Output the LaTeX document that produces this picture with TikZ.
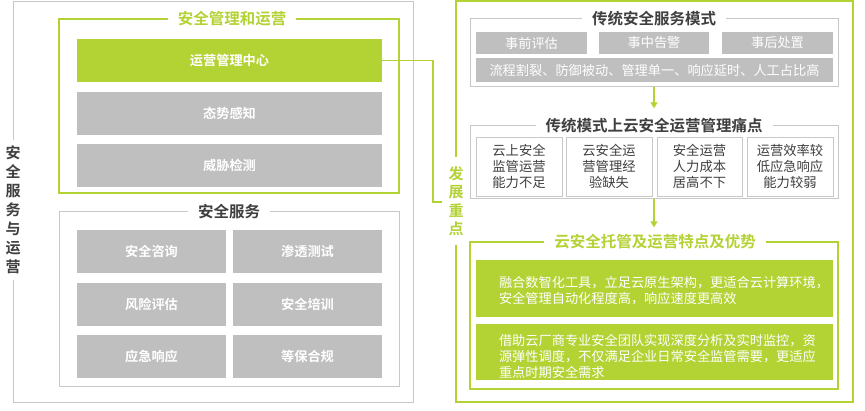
\documentclass[tikz,border=0pt]{standalone}
\usepackage{fontspec}
\setmainfont{Noto Sans CJK SC}[BoldFont={Noto Sans CJK SC Bold}]
\usepackage{xcolor}
\usetikzlibrary{arrows.meta}
\definecolor{leaf}{HTML}{B3D234}
\definecolor{boxgray}{HTML}{BFBFBF}
\definecolor{linegray}{HTML}{C8C8C8}
\definecolor{inkgray}{HTML}{3F3F3F}

\begin{document}
\begin{tikzpicture}[x=1pt, y=-1pt,
    grayframe/.style={draw=linegray, line width=1pt},
    leafframe/.style={draw=leaf, line width=1.2pt},
    title/.style={fill=white, inner xsep=10pt, inner ysep=1pt, font=\fontsize{15.5}{18}\selectfont\bfseries},
    vtitle/.style={fill=white, align=center, inner xsep=2pt, font=\fontsize{15}{19}\selectfont\bfseries},
    tile/.style={fill=boxgray, text=white, inner sep=0pt, minimum height=43pt, font=\fontsize{13.2}{16}\selectfont\bfseries},
    chip/.style={fill=boxgray, text=white, inner sep=0pt, font=\fontsize{13.2}{16}\selectfont},
    pain/.style={draw=linegray, line width=0.8pt, fill=white, text=inkgray, align=center, inner sep=0pt,
        minimum height=59pt, font=\fontsize{13.3}{16}\selectfont},
    feat/.style={fill=leaf, inner sep=0pt, minimum width=357pt},
    feattext/.style={anchor=west, text=white, align=left, inner sep=0pt, font=\fontsize{13.2}{16}\selectfont},
    flow/.style={draw=leaf, line width=1.2pt, -{Triangle[width=7pt,length=6pt]}}
]
    \useasboundingbox (0,0) rectangle (865,411);

    % left half: services and operations
    \draw[grayframe] (13,2) rectangle (413,403);
    \node[vtitle, text=inkgray, inner ysep=6pt] (svcops) at (13,210) {安\\全\\服\\务\\与\\运\\营};

    \draw[leafframe] (59,19) rectangle (399,193);
    \node[title, text=leaf] (mgmttitle) at (232,19) {安全管理和运营};
    \node[tile, fill=leaf, minimum width=305pt] (opscenter) at (229.5,60.5) {运营管理中心};
    \node[tile, minimum width=305pt] (situ) at (229.5,113.5) {态势感知};
    \node[tile, minimum width=305pt] (threat) at (229.5,165.5) {威胁检测};

    \draw[grayframe] (59,212) rectangle (399,387);
    \node[title, text=inkgray] (svctitle) at (229,212) {安全服务};
    \node[tile, minimum width=149pt] (consult) at (151.5,251.5) {安全咨询};
    \node[tile, minimum width=149pt] (pentest) at (307.5,251.5) {渗透测试};
    \node[tile, minimum width=149pt] (risk) at (151.5,304.5) {风险评估};
    \node[tile, minimum width=149pt] (training) at (307.5,304.5) {安全培训};
    \node[tile, minimum width=149pt] (emerg) at (151.5,356.5) {应急响应};
    \node[tile, minimum width=149pt] (comply) at (307.5,356.5) {等保合规};

    % right half: focus of development
    \draw[leafframe] (456,1) rectangle (853,402);
    \node[vtitle, text=leaf, inner ysep=9pt, font=\fontsize{15}{18.5}\selectfont\bfseries] (focus) at (456,201) {发\\展\\重\\点};

    \coordinate (hook) at (433,202);
    \coordinate (hookend) at (442,202);
    \draw[draw=leaf, line width=1.2pt] (opscenter.east) -| (hook) -- (hookend);

    \node[grayframe, minimum width=368pt, minimum height=68pt] (trad) at (654,53) {};
    \node[title, text=inkgray] (tradtitle) at (654,19) {传统安全服务模式};
    \node[chip, minimum width=111pt, minimum height=22pt] (pre) at (531.5,43) {事前评估};
    \node[chip, minimum width=110pt, minimum height=22pt] (mid) at (654,43) {事中告警};
    \node[chip, minimum width=111pt, minimum height=22pt] (post) at (777.5,43) {事后处置};
    \node[chip, minimum width=357pt, minimum height=24pt] (flaw) at (654.5,70) {流程割裂、防御被动、管理单一、响应延时、人工占比高};

    \node[grayframe, minimum width=368pt, minimum height=73pt] (painframe) at (654,162.5) {};
    \node[title, text=inkgray] (paintitle) at (654,126) {传统模式上云安全运营管理痛点};
    \node[pain, minimum width=86pt] (pain1) at (519,166.5) {云上安全\\监管运营\\能力不足};
    \node[pain, minimum width=86pt] (pain2) at (609,166.5) {云安全运\\营管理经\\验缺失};
    \node[pain, minimum width=85pt] (pain3) at (699.5,166.5) {安全运营\\人力成本\\居高不下};
    \node[pain, minimum width=86pt] (pain4) at (790,166.5) {运营效率较\\低应急响应\\能力较弱};

    \node[leafframe, minimum width=368pt, minimum height=147pt] (featframe) at (654,315.5) {};
    \node[title, text=leaf] (feattitle) at (655,242) {云安全托管及运营特点及优势};
    \node[feat, minimum height=57pt] (feat1) at (654.5,288.5) {};
    \node[feattext] (feat1text) at ([xshift=23pt,yshift=-2pt]feat1.west)
        {融合数智化工具，立足云原生架构，更适合云计算环境，\\安全管理自动化程度高，响应速度更高效};
    \node[feat, minimum height=56pt] (feat2) at (654.5,352) {};
    \node[feattext] (feat2text) at ([xshift=23pt,yshift=-4pt]feat2.west)
        {借助云厂商专业安全团队实现深度分析及实时监控，资\\源弹性调度，不仅满足企业日常安全监管需要，更适应\\重点时期安全需求};

    \draw[flow] (trad.south -| mid) -- ([yshift=9pt]paintitle.north -| mid);
    \draw[flow] (painframe.south -| mid) -- ([yshift=6pt]feattitle.north -| mid);
\end{tikzpicture}
\end{document}
